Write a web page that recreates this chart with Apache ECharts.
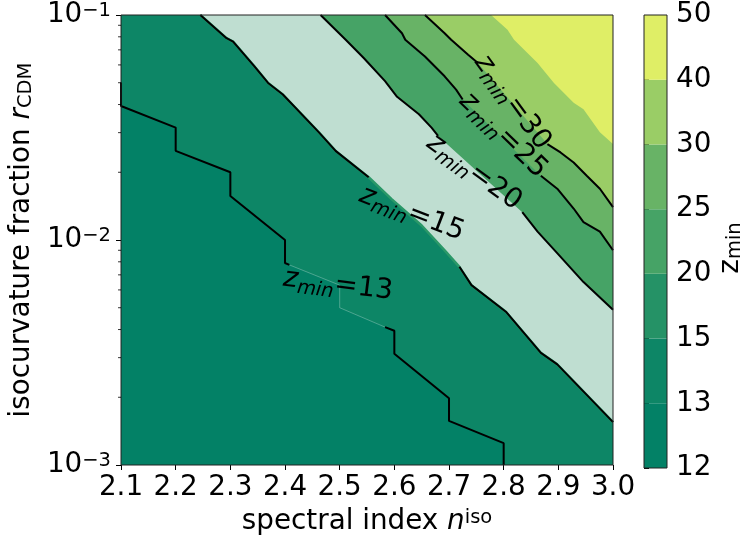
<!DOCTYPE html>
<html><head><meta charset="utf-8">
<script src="https://cdn.jsdelivr.net/npm/echarts@6.0.0/dist/echarts.min.js"></script>
<style>html,body{margin:0;padding:0;background:#fff}#c{width:746px;height:541px}</style>
</head><body><div id="c"></div>
<script>
// ---------------- data ----------------
const xTicks = [2.1, 2.2, 2.3, 2.4, 2.5, 2.6, 2.7, 2.8, 2.9, 3.0];
const yTicks = [0.001, 0.01, 0.1];
const yMinorTicks = [0.002,0.003,0.004,0.005,0.006,0.007,0.008,0.009,0.02,0.03,0.04,0.05,0.06,0.07,0.08,0.09];
const levels = [12, 13, 15, 20, 25, 30, 40, 50];
const bandColors = ['#038166', '#0d8666', '#259266', '#46a366', '#68b366', '#9acd66', '#dfee66'];
const plotBandColors = ['#038166', '#0d8666', '#bfded1', '#46a366', '#68b366', '#9acd66', '#dfee66'];

// contour paths [n_iso, r_CDM]; "a" before the label, "gap" under the label, "b" after it
const c13a = [[2.1,0.0501],[2.1,0.0394],[2.2,0.0316],[2.2,0.0249],[2.3,0.02],[2.3,0.0157],[2.4,0.01],[2.4,0.0079],[2.408,0.00775]];
const c13gap = [[2.5,0.0063],[2.5,0.005]];
const c13b = [[2.583,0.0041],[2.6,0.00395],[2.6,0.00312],[2.7,0.00198],[2.7,0.00157],[2.8,0.00125],[2.8,0.001]];

const c15a = [[2.245,0.1],[2.293,0.0789],[2.305,0.0762],[2.344,0.0591],[2.369,0.0499],[2.396,0.0443],[2.462,0.0301],[2.4925,0.0249],[2.553,0.019]];
const c15gap = [[2.595,0.0152],[2.65,0.0116],[2.692,0.009]];
const c15b = [[2.719,0.0076],[2.741,0.0063],[2.804,0.0048],[2.868,0.00315],[2.898,0.0028],[3.0,0.00155]];

const c20a = [[2.465,0.1],[2.511,0.0776],[2.544,0.0644],[2.583,0.0508],[2.605,0.0433],[2.645,0.0362],[2.668,0.0316],[2.68,0.029]];
const c20gap = [];
const c20b = [[2.834,0.0133],[2.862,0.0109],[2.895,0.0089],[2.946,0.0065],[3.0,0.0049]];

const c25a = [[2.583,0.1],[2.614,0.083],[2.62,0.0776],[2.656,0.0654],[2.692,0.0534],[2.713,0.0466],[2.725,0.0421]];
const c25gap = [];
const c25b = [[2.868,0.0193],[2.898,0.0169],[2.928,0.0138],[2.946,0.012],[2.976,0.0109],[3.0,0.009]];

const c30a = [[2.656,0.1],[2.692,0.083],[2.704,0.0776],[2.735,0.0666],[2.753,0.0612]];
const c30gap = [];
const c30b = [[2.88,0.0267],[2.904,0.0245],[2.928,0.0221],[2.952,0.0193],[2.976,0.0169],[3.0,0.014]];

const c40 = [[2.777,0.1],[2.807,0.0859],[2.819,0.0776],[2.862,0.0612],[2.892,0.0499],[2.928,0.0407],[2.946,0.0381],[2.976,0.0301],[3.0,0.0267]];

const labelLevels = [13, 15, 20, 25, 30];
const labelPos = [[2.497,0.0063],[2.632,0.0131],[2.746,0.02],[2.799,0.0292],[2.816,0.0409]];
const labelAngles = [-7, -21, -36, -44, -54];

// ---------------- build ----------------
const xMin = xTicks[0], xMax = xTicks[xTicks.length-1];
const yMin = yTicks[0], yMax = yTicks[yTicks.length-1];
const FONT = '"DejaVu Sans"';
const F = 27.8, FS = 19.5;

const full13 = c13a.concat(c13gap, c13b);
const full15 = c15a.concat(c15gap, c15b);
const full20 = c20a.concat(c20gap, c20b);
const full25 = c25a.concat(c25gap, c25b);
const full30 = c30a.concat(c30gap, c30b);

function regionAbove(path) {
  const pts = path.slice();
  const s = path[0], e = path[path.length-1];
  if (e[1] <= yMin * 1.0001) pts.push([xMax, yMin]);
  pts.push([xMax, yMax]);
  if (s[0] <= xMin + 1e-9 && s[1] < yMax * 0.9999) pts.push([xMin, yMax]);
  return pts;
}
const fillPolys = [
  [[xMin,yMin],[xMax,yMin],[xMax,yMax],[xMin,yMax]],
  regionAbove(full13), regionAbove(full15), regionAbove(full20),
  regionAbove(full25), regionAbove(full30), regionAbove(c40)
];

const mctx = document.createElement('canvas').getContext('2d');
function tw(font, s) { mctx.font = font; return mctx.measureText(s).width; }

function lineSeries(data, color, width, z) {
  return { type: 'line', xAxisIndex: 0, yAxisIndex: 0, data: data, symbol: 'none', showSymbol: false,
    lineStyle: { color: color, width: width }, silent: true, z: z, clip: true, animation: false };
}

const series = [];
// filled bands
series.push({
  type: 'custom', xAxisIndex: 0, yAxisIndex: 0, z: 1, silent: true,
  data: plotBandColors.map(() => [xMin, yMin]),
  renderItem: function (params, api) {
    const poly = fillPolys[params.dataIndex].map(p => api.coord(p));
    return { type: 'polygon', shape: { points: poly }, style: { fill: plotBandColors[params.dataIndex], stroke: null } };
  }
});
// sliver of the 15-20 colour along the 15 contour
series.push(lineSeries(full15, '#2a9868', 2.5, 2));
// faint fill edge under the 13 label
series.push(lineSeries([c13a[c13a.length-1]].concat(c13gap, [c13b[0]]), 'rgba(255,255,255,0.35)', 0.8, 2));
// contour lines
[c13a, c13b, c15a, c15b, c20a, c20b, c25a, c25b, c30a, c30b].forEach(d => series.push(lineSeries(d, '#000', 2, 3)));
// contour labels
series.push({
  type: 'custom', xAxisIndex: 0, yAxisIndex: 0, z: 4, silent: true,
  data: labelPos,
  renderItem: function (params, api) {
    const i = params.dataIndex;
    const p = api.coord([api.value(0), api.value(1)]);
    const fz = 'italic ' + F + 'px ' + FONT, fs = 'italic ' + FS + 'px ' + FONT, fr = F + 'px ' + FONT;
    const rest = '=' + labelLevels[i];
    const w1 = tw(fz, 'z'), w2 = tw(fs, 'min'), w3 = tw(fr, rest);
    const x0 = -(w1 + w2 + w3) / 2;
    const st = (t, f) => ({ text: t, font: f, fill: '#000', textAlign: 'left', textVerticalAlign: 'middle' });
    return { type: 'group', x: p[0], y: p[1], rotation: labelAngles[i] * Math.PI / 180, children: [
      { type: 'text', x: x0, y: 0, style: st('z', fz) },
      { type: 'text', x: x0 + w1, y: 7.5, style: st('min', fs) },
      { type: 'text', x: x0 + w1 + w2, y: 0, style: st(rest, fr) }
    ]};
  }
});
// main frame
series.push({
  type: 'custom', xAxisIndex: 0, yAxisIndex: 0, z: 5, silent: true, data: [[xMin, yMin]],
  renderItem: function (params, api) {
    const a = api.coord([xMin, yMax]), b = api.coord([xMax, yMin]);
    return { type: 'rect', shape: { x: a[0], y: a[1], width: b[0]-a[0], height: b[1]-a[1] },
      style: { fill: null, stroke: '#222', lineWidth: 1 } };
  }
});
// minor log ticks
series.push({
  type: 'custom', xAxisIndex: 0, yAxisIndex: 0, z: 5, silent: true,
  data: yMinorTicks.map(v => [xMin, v]),
  renderItem: function (params, api) {
    const p = api.coord([api.value(0), api.value(1)]);
    return { type: 'line', shape: { x1: p[0] - 3, y1: p[1], x2: p[0], y2: p[1] }, style: { stroke: '#000', lineWidth: 0.8 } };
  }
});
// colorbar bands
series.push({
  type: 'custom', xAxisIndex: 1, yAxisIndex: 1, z: 1, silent: true,
  data: bandColors.map((c, i) => [0, i]),
  renderItem: function (params, api) {
    const i = params.dataIndex;
    const a = api.coord([0, i + 1]), b = api.coord([1, i]);
    return { type: 'rect', shape: { x: a[0], y: a[1], width: b[0]-a[0], height: b[1]-a[1] }, style: { fill: bandColors[i] } };
  }
});
series.push({
  type: 'custom', xAxisIndex: 1, yAxisIndex: 1, z: 5, silent: true, data: [[0, 0]],
  renderItem: function (params, api) {
    const a = api.coord([0, levels.length - 1]), b = api.coord([1, 0]);
    return { type: 'rect', shape: { x: a[0], y: a[1], width: b[0]-a[0], height: b[1]-a[1] },
      style: { fill: null, stroke: '#222', lineWidth: 1 } };
  }
});

const tickLabel = { color: '#000', fontFamily: FONT, fontSize: F };
const option = {
  animation: false,
  textStyle: { fontFamily: FONT },
  grid: [
    { left: 117, top: 15, width: 496, height: 453 },
    { left: 644, top: 15, width: 23, height: 453 }
  ],
  xAxis: [
    { gridIndex: 0, type: 'value', min: xMin, max: xMax, interval: 0.1,
      axisLine: { show: false }, splitLine: { show: false },
      axisTick: { show: true, length: 5, lineStyle: { color: '#000', width: 1 } },
      axisLabel: Object.assign({ margin: 9, formatter: v => v.toFixed(1), lineHeight: 28 }, tickLabel),
      name: 'spectral index {i|n}{s|iso}', nameLocation: 'middle', nameGap: 43,
      nameTextStyle: { color: '#000', fontFamily: FONT, fontSize: F, lineHeight: 28,
        rich: { i: { fontStyle: 'italic', fontSize: F, fontFamily: FONT, color: '#000', lineHeight: 28 },
                s: { fontSize: FS, fontFamily: FONT, color: '#000', lineHeight: 3, verticalAlign: 'top' } } } },
    { gridIndex: 1, type: 'value', min: 0, max: 1, show: false }
  ],
  yAxis: [
    { gridIndex: 0, type: 'log', logBase: 10, min: yMin, max: yMax,
      axisLine: { show: false }, splitLine: { show: false }, minorTick: { show: false },
      axisTick: { show: true, length: 5, lineStyle: { color: '#000', width: 1 } },
      axisLabel: { margin: 10, color: '#000', fontFamily: FONT, fontSize: F,
        formatter: function (v) { const e = v > 0 ? Math.round(Math.log10(v)) : Math.round(v); return '{b|10}{s|' + (e < 0 ? '\u2212' : '') + Math.abs(e) + '}'; },
        rich: { b: { fontSize: F, fontFamily: FONT, color: '#000', lineHeight: 28 },
                s: { fontSize: FS, fontFamily: FONT, color: '#000', lineHeight: 12, verticalAlign: 'top' } } },
      name: 'isocurvature fraction {i|r}{s|CDM}', nameLocation: 'middle', nameGap: 81, nameRotate: 90,
      nameTextStyle: { color: '#000', fontFamily: FONT, fontSize: F, lineHeight: 28,
        rich: { i: { fontStyle: 'italic', fontSize: F, fontFamily: FONT, color: '#000', lineHeight: 28 },
                s: { fontSize: FS, fontFamily: FONT, color: '#000', lineHeight: 8, verticalAlign: 'bottom' } } } },
    { gridIndex: 1, type: 'value', min: 0, max: levels.length - 1, interval: 1, position: 'right',
      axisLine: { show: false }, splitLine: { show: false },
      axisTick: { show: true, length: 5, lineStyle: { color: '#000', width: 1 } },
      axisLabel: Object.assign({ margin: 9, formatter: v => String(levels[Math.round(v)]) }, tickLabel),
      name: '{z|z}{s|min}', nameLocation: 'middle', nameGap: 50, nameRotate: 90,
      nameTextStyle: { color: '#000', fontFamily: FONT, fontSize: F, lineHeight: 28,
        rich: { z: { fontSize: F, fontFamily: FONT, color: '#000', lineHeight: 28 },
                s: { fontSize: FS, fontFamily: FONT, color: '#000', lineHeight: 10, verticalAlign: 'bottom', padding: [0, 13, 0, 0] } } } }
  ],
  series: series
};
const chart = echarts.init(document.getElementById('c'), null, { renderer: 'canvas' });
chart.setOption(option);
</script>
</body></html>
